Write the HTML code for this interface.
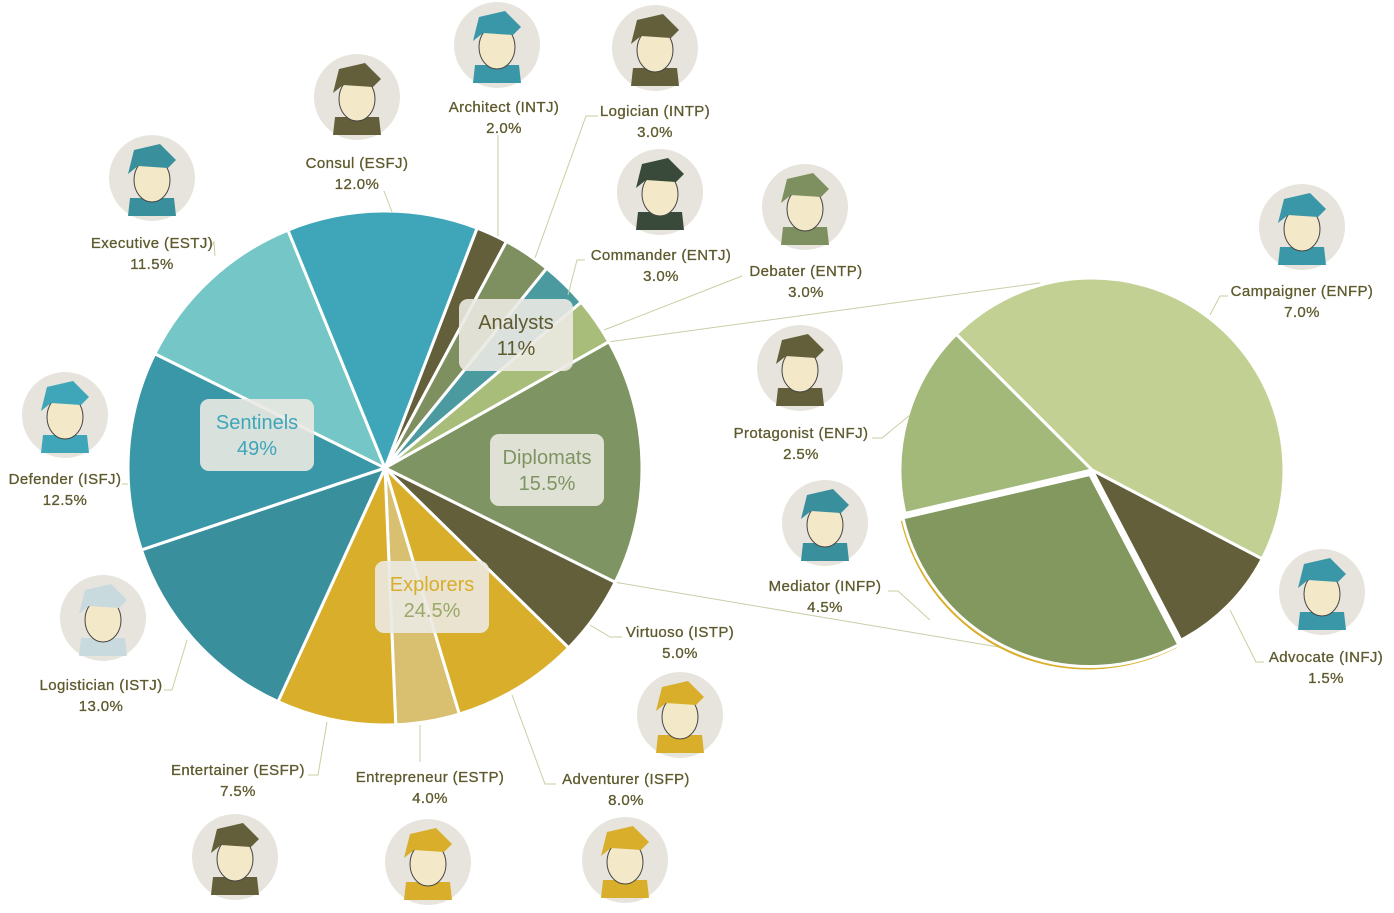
<!DOCTYPE html>
<html><head><meta charset="utf-8">
<style>
html,body{margin:0;padding:0;background:#fff;}
svg{display:block;font-family:"Liberation Sans",sans-serif;}
.lbl{font-size:15px;fill:#5e5a2e;letter-spacing:0.4px;stroke:#5e5a2e;stroke-width:0.3px;}
</style></head>
<body>
<svg width="1394" height="913" viewBox="0 0 1394 913" xmlns="http://www.w3.org/2000/svg">
<g id="connectors"></g>
<g id="mainpie"></g>
<g id="subpie"></g>
<g id="avatars"></g>
<g id="labels"></g>
<g id="groups"></g>
</svg>
<script>
const names = ["Architect (INTJ)","Logician (INTP)","Commander (ENTJ)","Debater (ENTP)","Diplomats","Virtuoso (ISTP)","Adventurer (ISFP)","Entrepreneur (ESTP)","Entertainer (ESFP)","Logistician (ISTJ)","Defender (ISFJ)","Executive (ESTJ)","Consul (ESFJ)"];
const values = [2.0,3.0,3.0,3.0,15.5,5.0,8.0,4.0,7.5,13.0,12.5,11.5,12.0];
const subNames = ["Campaigner (ENFP)","Advocate (INFJ)","Mediator (INFP)","Protagonist (ENFJ)"];
const subValues = [7.0,1.5,4.5,2.5];
const groupNames = ["Analysts","Diplomats","Explorers","Sentinels"];
const groupValues = ["11%","15.5%","24.5%","49%"];
const colors = ["#635f3a","#7e9060","#4a9aa0","#a8bd7a","#7e9462","#635f3a","#d9ae2b","#d8c070","#d9ae2b","#3a8f9c","#3a97a8","#74c7c6","#3ea6b8"];
const subColors = ["#c2d193","#635f3a","#82985f","#a3b97a"];

const NS="http://www.w3.org/2000/svg";
function mk(tag,attrs,parent){const e=document.createElementNS(NS,tag);for(const k in attrs)e.setAttribute(k,attrs[k]);parent.appendChild(e);return e;}
function pt(cx,cy,r,a){const t=a*Math.PI/180;return [cx+r*Math.sin(t),cy-r*Math.cos(t)];}
function arc(cx,cy,r,a0,a1){const p0=pt(cx,cy,r,a0),p1=pt(cx,cy,r,a1);const lg=(a1-a0)>180?1:0;return `M${cx},${cy}L${p0[0]},${p0[1]}A${r},${r} 0 ${lg} 1 ${p1[0]},${p1[1]}Z`;}

const CX=385,CY=468,R=257,START=21;
const total=values.reduce((a,b)=>a+b,0);
const mp=document.getElementById('mainpie');
let a=START; const angs=[];
values.forEach((v,i)=>{const a1=a+v/total*360;angs.push([a,a1]);
 const p=mk('path',{d:arc(CX,CY,R,a,a1),fill:colors[i],stroke:'#fff','stroke-width':3},mp);
 
 
 a=a1;});

const SX=1092,SY=470,SR=192;
const cg=document.getElementById('connectors');
const d0=pt(CX,CY,R,angs[4][0]),d1=pt(CX,CY,R,angs[4][1]);
let l=mk('line',{x1:d0[0],y1:d0[1],x2:1040,y2:283,stroke:'#c8cfa8','stroke-width':1},cg);

l=mk('line',{x1:d1[0],y1:d1[1],x2:1040,y2:654,stroke:'#c8cfa8','stroke-width':1},cg);


const sp=document.getElementById('subpie');
const subTotal=subValues.reduce((a,b)=>a+b,0);
let sa=315; const sangs=[];
subValues.forEach((v,i)=>{const a1=sa+v/subTotal*360;sangs.push([sa,a1]);sa=a1;});
subValues.forEach((v,i)=>{
 let ox=0,oy=0;
 if(i===2){const mid=(sangs[i][0]+sangs[i][1])/2;const o=pt(0,0,5,mid);ox=o[0];oy=o[1];
  const sh=mk('path',{d:arc(SX+ox-2,SY+oy+3,SR,sangs[i][0],sangs[i][1]),fill:'#d9ae2b'},sp);
  }
 const p=mk('path',{d:arc(SX+ox,SY+oy,SR,sangs[i][0],sangs[i][1]),fill:subColors[i],stroke:'#fff','stroke-width':3},sp);
 
 
});

const avg=document.getElementById('avatars');
const av=[[497,45,"#3a97a8"],[655,48,"#635f3a"],[357,97,"#635f3a"],[660,192,"#3a4a3a"],[152,178,"#3a8f9c"],[805,207,"#7e9060"],[1302,227,"#3a97a8"],[65,415,"#3ea6b8"],[800,368,"#635f3a"],[825,523,"#3a8f9c"],[103,618,"#c9dadf"],[1322,592,"#3a97a8"],[680,715,"#d9ae2b"],[235,857,"#635f3a"],[428,862,"#d9ae2b"],[625,860,"#d9ae2b"]];
av.forEach((q,i)=>{const g=mk('g',{},avg);
 
 mk('circle',{cx:q[0],cy:q[1],r:43,fill:'#e6e4dc'},g);
 mk('path',{d:`M${q[0]-24},${q[1]+38} L${q[0]-22},${q[1]+20} L${q[0]+22},${q[1]+20} L${q[0]+24},${q[1]+38}Z`,fill:q[2]},g);
 mk('ellipse',{cx:q[0],cy:q[1]+2,rx:18,ry:22,fill:'#f3e9c8',stroke:'#444','stroke-width':1},g);
 mk('path',{d:`M${q[0]-24},${q[1]-4} L${q[0]-18},${q[1]-28} L${q[0]+8},${q[1]-34} L${q[0]+24},${q[1]-18} L${q[0]+16},${q[1]-10} L${q[0]-14},${q[1]-12}Z`,fill:q[2]},g);
});

const lg=document.getElementById('labels');
const labs=[
 ["Architect (INTJ)","2.0%",504,112,[[498,135],[498,236]]],
 ["Logician (INTP)","3.0%",655,116,[[598,116],[586,116],[535,258]]],
 ["Commander (ENTJ)","3.0%",661,260,[[585,260],[577,260],[568,295]]],
 ["Debater (ENTP)","3.0%",806,276,[[742,276],[604,330]]],
 ["Consul (ESFJ)","12.0%",357,168,[[384,191],[392,212]]],
 ["Executive (ESTJ)","11.5%",152,248,[[210,248],[214,242],[215,256]]],
 ["Defender (ISFJ)","12.5%",65,484,[[122,484],[128,484]]],
 ["Logistician (ISTJ)","13.0%",101,690,[[164,690],[172,690],[187,640]]],
 ["Entertainer (ESFP)","7.5%",238,775,[[308,775],[318,775],[327,722]]],
 ["Entrepreneur (ESTP)","4.0%",430,782,[[420,762],[420,725]]],
 ["Adventurer (ISFP)","8.0%",626,784,[[556,784],[545,784],[512,695]]],
 ["Virtuoso (ISTP)","5.0%",680,637,[[622,637],[610,637],[590,625]]],
 ["Campaigner (ENFP)","7.0%",1302,296,[[1228,296],[1220,296],[1210,315]]],
 ["Advocate (INFJ)","1.5%",1326,662,[[1264,662],[1256,662],[1230,610]]],
 ["Mediator (INFP)","4.5%",825,591,[[888,591],[898,591],[930,620]]],
 ["Protagonist (ENFJ)","2.5%",801,438,[[872,438],[882,438],[910,415]]]
];
labs.forEach(L=>{
 const pl=mk('polyline',{points:L[4].map(p=>p.join(',')).join(' '),fill:'none',stroke:'#c8cfa0','stroke-width':1},lg);
 
 const t=mk('text',{x:L[2],y:L[3],'text-anchor':'middle',class:'lbl'},lg);t.textContent=L[0];
 
 const t2=mk('text',{x:L[2],y:L[3]+21,'text-anchor':'middle',class:'lbl'},lg);t2.textContent=L[1];
 
});

const gg=document.getElementById('groups');
const gb=[[459,299,114,72,"#5e5a2e","#5e5a2e"],[490,434,114,72,"#7e9462","#7e9462"],[375,561,114,72,"#d9ae2b","#9aa86a"],[200,399,114,72,"#3ea6b8","#3ea6b8"]];
gb.forEach((b,i)=>{const g=mk('g',{},gg);
 
 mk('rect',{x:b[0],y:b[1],width:b[2],height:b[3],rx:9,fill:'#ebe9e2','fill-opacity':0.9},g);
 const t=mk('text',{x:b[0]+b[2]/2,y:b[1]+30,'text-anchor':'middle','font-size':20,fill:b[4]},g);t.textContent=groupNames[i];
 const t2=mk('text',{x:b[0]+b[2]/2,y:b[1]+56,'text-anchor':'middle','font-size':20,fill:b[5]},g);t2.textContent=groupValues[i];
});
</script>
</body></html>
